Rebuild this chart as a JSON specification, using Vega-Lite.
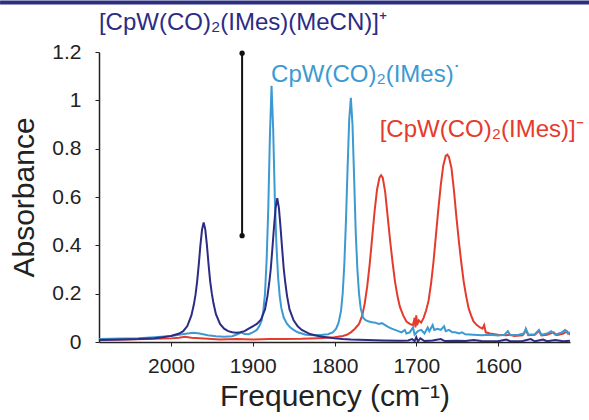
{
  "$schema": "https://vega.github.io/schema/vega-lite/v6.json",
  "width": 471,
  "height": 290,
  "autosize": "none",
  "padding": {"left": 99, "top": 52, "right": 19, "bottom": 78},
  "background": "white",
  "config": {"view": {"stroke": null}, "font": "Liberation Sans"},
  "datasets": {
    "spectra": [
      {"s": "anion", "f": 2088, "a": 0.008}, {"s": "anion", "f": 2060, "a": 0.01}, {"s": "anion", "f": 2030, "a": 0.012}, {"s": "anion", "f": 2000, "a": 0.015}, {"s": "anion", "f": 1990, "a": 0.018}, {"s": "anion", "f": 1983, "a": 0.022}, {"s": "anion", "f": 1975, "a": 0.018}, {"s": "anion", "f": 1960, "a": 0.014}, {"s": "anion", "f": 1940, "a": 0.01}, {"s": "anion", "f": 1920, "a": 0.012}, {"s": "anion", "f": 1900, "a": 0.01}, {"s": "anion", "f": 1880, "a": 0.012}, {"s": "anion", "f": 1860, "a": 0.012}, {"s": "anion", "f": 1840, "a": 0.013}, {"s": "anion", "f": 1820, "a": 0.016}, {"s": "anion", "f": 1800, "a": 0.02}, {"s": "anion", "f": 1790, "a": 0.025}, {"s": "anion", "f": 1785, "a": 0.03}, {"s": "anion", "f": 1780, "a": 0.04}, {"s": "anion", "f": 1775, "a": 0.055}, {"s": "anion", "f": 1770, "a": 0.075}, {"s": "anion", "f": 1766, "a": 0.11}, {"s": "anion", "f": 1763, "a": 0.16}, {"s": "anion", "f": 1760, "a": 0.23}, {"s": "anion", "f": 1757, "a": 0.32}, {"s": "anion", "f": 1754, "a": 0.43}, {"s": "anion", "f": 1751, "a": 0.54}, {"s": "anion", "f": 1748, "a": 0.63}, {"s": "anion", "f": 1745, "a": 0.68}, {"s": "anion", "f": 1743, "a": 0.69}, {"s": "anion", "f": 1741, "a": 0.68}, {"s": "anion", "f": 1738, "a": 0.62}, {"s": "anion", "f": 1735, "a": 0.52}, {"s": "anion", "f": 1732, "a": 0.42}, {"s": "anion", "f": 1729, "a": 0.33}, {"s": "anion", "f": 1726, "a": 0.25}, {"s": "anion", "f": 1723, "a": 0.19}, {"s": "anion", "f": 1720, "a": 0.145}, {"s": "anion", "f": 1716, "a": 0.11}, {"s": "anion", "f": 1712, "a": 0.085}, {"s": "anion", "f": 1708, "a": 0.075}, {"s": "anion", "f": 1704, "a": 0.07}, {"s": "anion", "f": 1702, "a": 0.1}, {"s": "anion", "f": 1701, "a": 0.06}, {"s": "anion", "f": 1700, "a": 0.11}, {"s": "anion", "f": 1699, "a": 0.07}, {"s": "anion", "f": 1697, "a": 0.09}, {"s": "anion", "f": 1694, "a": 0.08}, {"s": "anion", "f": 1691, "a": 0.1}, {"s": "anion", "f": 1688, "a": 0.13}, {"s": "anion", "f": 1685, "a": 0.17}, {"s": "anion", "f": 1682, "a": 0.24}, {"s": "anion", "f": 1679, "a": 0.33}, {"s": "anion", "f": 1676, "a": 0.44}, {"s": "anion", "f": 1673, "a": 0.55}, {"s": "anion", "f": 1670, "a": 0.65}, {"s": "anion", "f": 1667, "a": 0.73}, {"s": "anion", "f": 1664, "a": 0.77}, {"s": "anion", "f": 1662, "a": 0.775}, {"s": "anion", "f": 1660, "a": 0.765}, {"s": "anion", "f": 1657, "a": 0.72}, {"s": "anion", "f": 1654, "a": 0.63}, {"s": "anion", "f": 1651, "a": 0.52}, {"s": "anion", "f": 1648, "a": 0.42}, {"s": "anion", "f": 1645, "a": 0.33}, {"s": "anion", "f": 1642, "a": 0.25}, {"s": "anion", "f": 1639, "a": 0.19}, {"s": "anion", "f": 1636, "a": 0.14}, {"s": "anion", "f": 1633, "a": 0.11}, {"s": "anion", "f": 1630, "a": 0.085}, {"s": "anion", "f": 1626, "a": 0.07}, {"s": "anion", "f": 1622, "a": 0.06}, {"s": "anion", "f": 1619, "a": 0.055}, {"s": "anion", "f": 1617, "a": 0.07}, {"s": "anion", "f": 1615, "a": 0.04}, {"s": "anion", "f": 1610, "a": 0.035}, {"s": "anion", "f": 1600, "a": 0.03}, {"s": "anion", "f": 1590, "a": 0.028}, {"s": "anion", "f": 1585, "a": 0.03}, {"s": "anion", "f": 1580, "a": 0.025}, {"s": "anion", "f": 1570, "a": 0.028}, {"s": "anion", "f": 1566, "a": 0.05}, {"s": "anion", "f": 1563, "a": 0.028}, {"s": "anion", "f": 1555, "a": 0.03}, {"s": "anion", "f": 1550, "a": 0.045}, {"s": "anion", "f": 1547, "a": 0.027}, {"s": "anion", "f": 1540, "a": 0.03}, {"s": "anion", "f": 1532, "a": 0.04}, {"s": "anion", "f": 1528, "a": 0.028}, {"s": "anion", "f": 1520, "a": 0.035}, {"s": "anion", "f": 1516, "a": 0.045}, {"s": "anion", "f": 1512, "a": 0.03},

      {"s": "radical", "f": 2088, "a": 0.012}, {"s": "radical", "f": 2060, "a": 0.014}, {"s": "radical", "f": 2040, "a": 0.016}, {"s": "radical", "f": 2020, "a": 0.02}, {"s": "radical", "f": 2000, "a": 0.025}, {"s": "radical", "f": 1990, "a": 0.03}, {"s": "radical", "f": 1980, "a": 0.035}, {"s": "radical", "f": 1972, "a": 0.038}, {"s": "radical", "f": 1965, "a": 0.035}, {"s": "radical", "f": 1955, "a": 0.028}, {"s": "radical", "f": 1945, "a": 0.024}, {"s": "radical", "f": 1935, "a": 0.022}, {"s": "radical", "f": 1925, "a": 0.024}, {"s": "radical", "f": 1918, "a": 0.033}, {"s": "radical", "f": 1914, "a": 0.04}, {"s": "radical", "f": 1910, "a": 0.033}, {"s": "radical", "f": 1905, "a": 0.032}, {"s": "radical", "f": 1900, "a": 0.04}, {"s": "radical", "f": 1895, "a": 0.05}, {"s": "radical", "f": 1892, "a": 0.065}, {"s": "radical", "f": 1889, "a": 0.09}, {"s": "radical", "f": 1887, "a": 0.13}, {"s": "radical", "f": 1885, "a": 0.2}, {"s": "radical", "f": 1883, "a": 0.34}, {"s": "radical", "f": 1881, "a": 0.55}, {"s": "radical", "f": 1879, "a": 0.85}, {"s": "radical", "f": 1877, "a": 1.06}, {"s": "radical", "f": 1875, "a": 0.88}, {"s": "radical", "f": 1873, "a": 0.6}, {"s": "radical", "f": 1871, "a": 0.4}, {"s": "radical", "f": 1869, "a": 0.27}, {"s": "radical", "f": 1867, "a": 0.19}, {"s": "radical", "f": 1865, "a": 0.14}, {"s": "radical", "f": 1862, "a": 0.1}, {"s": "radical", "f": 1858, "a": 0.075}, {"s": "radical", "f": 1854, "a": 0.06}, {"s": "radical", "f": 1850, "a": 0.05}, {"s": "radical", "f": 1845, "a": 0.04}, {"s": "radical", "f": 1835, "a": 0.03}, {"s": "radical", "f": 1825, "a": 0.028}, {"s": "radical", "f": 1815, "a": 0.03}, {"s": "radical", "f": 1808, "a": 0.032}, {"s": "radical", "f": 1802, "a": 0.04}, {"s": "radical", "f": 1798, "a": 0.055}, {"s": "radical", "f": 1795, "a": 0.08}, {"s": "radical", "f": 1792, "a": 0.13}, {"s": "radical", "f": 1790, "a": 0.2}, {"s": "radical", "f": 1788, "a": 0.32}, {"s": "radical", "f": 1786, "a": 0.5}, {"s": "radical", "f": 1784, "a": 0.72}, {"s": "radical", "f": 1782, "a": 0.92}, {"s": "radical", "f": 1780, "a": 1.01}, {"s": "radical", "f": 1778, "a": 0.9}, {"s": "radical", "f": 1776, "a": 0.68}, {"s": "radical", "f": 1774, "a": 0.45}, {"s": "radical", "f": 1772, "a": 0.3}, {"s": "radical", "f": 1770, "a": 0.2}, {"s": "radical", "f": 1768, "a": 0.14}, {"s": "radical", "f": 1765, "a": 0.1}, {"s": "radical", "f": 1762, "a": 0.09}, {"s": "radical", "f": 1758, "a": 0.085}, {"s": "radical", "f": 1754, "a": 0.082}, {"s": "radical", "f": 1750, "a": 0.08}, {"s": "radical", "f": 1746, "a": 0.075}, {"s": "radical", "f": 1742, "a": 0.078}, {"s": "radical", "f": 1738, "a": 0.07}, {"s": "radical", "f": 1734, "a": 0.062}, {"s": "radical", "f": 1730, "a": 0.055}, {"s": "radical", "f": 1726, "a": 0.05}, {"s": "radical", "f": 1722, "a": 0.045}, {"s": "radical", "f": 1718, "a": 0.04}, {"s": "radical", "f": 1714, "a": 0.05}, {"s": "radical", "f": 1712, "a": 0.035}, {"s": "radical", "f": 1708, "a": 0.04}, {"s": "radical", "f": 1704, "a": 0.06}, {"s": "radical", "f": 1702, "a": 0.03}, {"s": "radical", "f": 1698, "a": 0.045}, {"s": "radical", "f": 1694, "a": 0.05}, {"s": "radical", "f": 1690, "a": 0.035}, {"s": "radical", "f": 1686, "a": 0.06}, {"s": "radical", "f": 1684, "a": 0.045}, {"s": "radical", "f": 1680, "a": 0.07}, {"s": "radical", "f": 1678, "a": 0.05}, {"s": "radical", "f": 1674, "a": 0.055}, {"s": "radical", "f": 1670, "a": 0.05}, {"s": "radical", "f": 1666, "a": 0.065}, {"s": "radical", "f": 1664, "a": 0.045}, {"s": "radical", "f": 1660, "a": 0.05}, {"s": "radical", "f": 1656, "a": 0.04}, {"s": "radical", "f": 1652, "a": 0.04}, {"s": "radical", "f": 1648, "a": 0.035}, {"s": "radical", "f": 1644, "a": 0.04}, {"s": "radical", "f": 1640, "a": 0.032}, {"s": "radical", "f": 1630, "a": 0.03}, {"s": "radical", "f": 1620, "a": 0.028}, {"s": "radical", "f": 1610, "a": 0.03}, {"s": "radical", "f": 1600, "a": 0.027}, {"s": "radical", "f": 1592, "a": 0.03}, {"s": "radical", "f": 1588, "a": 0.045}, {"s": "radical", "f": 1585, "a": 0.028}, {"s": "radical", "f": 1575, "a": 0.03}, {"s": "radical", "f": 1568, "a": 0.035}, {"s": "radical", "f": 1566, "a": 0.055}, {"s": "radical", "f": 1563, "a": 0.03}, {"s": "radical", "f": 1555, "a": 0.032}, {"s": "radical", "f": 1550, "a": 0.05}, {"s": "radical", "f": 1547, "a": 0.03}, {"s": "radical", "f": 1540, "a": 0.035}, {"s": "radical", "f": 1535, "a": 0.045}, {"s": "radical", "f": 1530, "a": 0.03}, {"s": "radical", "f": 1522, "a": 0.04}, {"s": "radical", "f": 1518, "a": 0.05}, {"s": "radical", "f": 1515, "a": 0.035}, {"s": "radical", "f": 1512, "a": 0.04},

      {"s": "cation", "f": 2088, "a": 0.008}, {"s": "cation", "f": 2060, "a": 0.01}, {"s": "cation", "f": 2040, "a": 0.012}, {"s": "cation", "f": 2020, "a": 0.016}, {"s": "cation", "f": 2010, "a": 0.02}, {"s": "cation", "f": 2000, "a": 0.025}, {"s": "cation", "f": 1990, "a": 0.035}, {"s": "cation", "f": 1985, "a": 0.045}, {"s": "cation", "f": 1980, "a": 0.066}, {"s": "cation", "f": 1975, "a": 0.11}, {"s": "cation", "f": 1972, "a": 0.155}, {"s": "cation", "f": 1970, "a": 0.195}, {"s": "cation", "f": 1968, "a": 0.25}, {"s": "cation", "f": 1966, "a": 0.32}, {"s": "cation", "f": 1964, "a": 0.4}, {"s": "cation", "f": 1962, "a": 0.465}, {"s": "cation", "f": 1960, "a": 0.495}, {"s": "cation", "f": 1958, "a": 0.465}, {"s": "cation", "f": 1956, "a": 0.4}, {"s": "cation", "f": 1954, "a": 0.32}, {"s": "cation", "f": 1952, "a": 0.25}, {"s": "cation", "f": 1950, "a": 0.2}, {"s": "cation", "f": 1948, "a": 0.16}, {"s": "cation", "f": 1945, "a": 0.115}, {"s": "cation", "f": 1940, "a": 0.075}, {"s": "cation", "f": 1935, "a": 0.055}, {"s": "cation", "f": 1930, "a": 0.045}, {"s": "cation", "f": 1925, "a": 0.04}, {"s": "cation", "f": 1920, "a": 0.038}, {"s": "cation", "f": 1915, "a": 0.04}, {"s": "cation", "f": 1910, "a": 0.045}, {"s": "cation", "f": 1905, "a": 0.055}, {"s": "cation", "f": 1900, "a": 0.065}, {"s": "cation", "f": 1895, "a": 0.075}, {"s": "cation", "f": 1890, "a": 0.092}, {"s": "cation", "f": 1885, "a": 0.135}, {"s": "cation", "f": 1882, "a": 0.19}, {"s": "cation", "f": 1880, "a": 0.24}, {"s": "cation", "f": 1878, "a": 0.3}, {"s": "cation", "f": 1876, "a": 0.385}, {"s": "cation", "f": 1874, "a": 0.475}, {"s": "cation", "f": 1872, "a": 0.555}, {"s": "cation", "f": 1870, "a": 0.595}, {"s": "cation", "f": 1868, "a": 0.555}, {"s": "cation", "f": 1866, "a": 0.475}, {"s": "cation", "f": 1864, "a": 0.385}, {"s": "cation", "f": 1862, "a": 0.3}, {"s": "cation", "f": 1860, "a": 0.24}, {"s": "cation", "f": 1858, "a": 0.19}, {"s": "cation", "f": 1855, "a": 0.135}, {"s": "cation", "f": 1850, "a": 0.09}, {"s": "cation", "f": 1845, "a": 0.065}, {"s": "cation", "f": 1840, "a": 0.05}, {"s": "cation", "f": 1830, "a": 0.033}, {"s": "cation", "f": 1820, "a": 0.025}, {"s": "cation", "f": 1810, "a": 0.02}, {"s": "cation", "f": 1800, "a": 0.015}, {"s": "cation", "f": 1790, "a": 0.012}, {"s": "cation", "f": 1780, "a": 0.01}, {"s": "cation", "f": 1760, "a": 0.008}, {"s": "cation", "f": 1740, "a": 0.006}, {"s": "cation", "f": 1720, "a": 0.005}, {"s": "cation", "f": 1710, "a": 0.006}, {"s": "cation", "f": 1705, "a": 0.012}, {"s": "cation", "f": 1702, "a": 0.004}, {"s": "cation", "f": 1700, "a": 0.02}, {"s": "cation", "f": 1698, "a": 0.003}, {"s": "cation", "f": 1695, "a": 0.015}, {"s": "cation", "f": 1690, "a": 0.004}, {"s": "cation", "f": 1680, "a": 0.006}, {"s": "cation", "f": 1670, "a": 0.012}, {"s": "cation", "f": 1665, "a": 0.004}, {"s": "cation", "f": 1650, "a": 0.005}, {"s": "cation", "f": 1640, "a": 0.004}, {"s": "cation", "f": 1630, "a": 0.008}, {"s": "cation", "f": 1620, "a": 0.004}, {"s": "cation", "f": 1600, "a": 0.003}, {"s": "cation", "f": 1590, "a": 0.01}, {"s": "cation", "f": 1585, "a": 0.003}, {"s": "cation", "f": 1570, "a": 0.004}, {"s": "cation", "f": 1560, "a": 0.012}, {"s": "cation", "f": 1555, "a": 0.003}, {"s": "cation", "f": 1545, "a": 0.01}, {"s": "cation", "f": 1540, "a": 0.003}, {"s": "cation", "f": 1530, "a": 0.008}, {"s": "cation", "f": 1520, "a": 0.003}, {"s": "cation", "f": 1512, "a": 0.005}
    ],
    "labels": [
      {"s": "cation", "f": 1912, "a": 1.32, "t": "[CpW(CO)₂(IMes)(MeCN)]⁺"},
      {"s": "radical", "f": 1761, "a": 1.105, "t": "CpW(CO)₂(IMes)˙"},
      {"s": "anion", "f": 1620, "a": 0.877, "t": "[CpW(CO)₂(IMes)]⁻"}
    ],
    "bar": [{"f": 1913, "a": 0.44, "a2": 1.195}],
    "barEnds": [{"f": 1913, "a": 0.44}, {"f": 1913, "a": 1.195}],
    "border": [{"f": 2209, "f2": 1487, "a": 1.405}]
  },
  "layer": [
    {
      "data": {"name": "spectra"},
      "mark": {"type": "line", "strokeWidth": 2, "clip": true},
      "encoding": {
        "x": {"field": "f", "type": "quantitative", "scale": {"domain": [1512, 2088], "reverse": true, "nice": false, "zero": false},
          "axis": {"values": [2000, 1900, 1800, 1700, 1600], "format": "d", "title": "Frequency (cm⁻¹)", "grid": false,
            "labelFontSize": 21, "titleFontSize": 30, "titleFontWeight": "normal", "labelColor": "#222", "titleColor": "#222",
            "domainColor": "#222", "domainWidth": 1.5, "tickColor": "#222", "tickSize": 4, "labelPadding": 9, "titlePadding": 5}},
        "y": {"field": "a", "type": "quantitative", "scale": {"domain": [0, 1.2], "nice": false},
          "axis": {"values": [0, 0.2, 0.4, 0.6, 0.8, 1, 1.2], "format": ".1~f", "title": "Absorbance", "grid": false,
            "labelFontSize": 21, "titleFontSize": 30, "titleFontWeight": "normal", "labelColor": "#222", "titleColor": "#222",
            "domainColor": "#222", "domainWidth": 1.5, "tickColor": "#222", "tickSize": 4, "labelPadding": 14, "titlePadding": 12}},
        "color": {"field": "s", "type": "nominal", "legend": null,
          "scale": {"domain": ["anion", "radical", "cation"], "range": ["#e53b2c", "#3c9ad2", "#2c2c85"]}},
        "order": {"field": "f"}
      }
    },
    {
      "data": {"name": "bar"},
      "mark": {"type": "rule", "color": "#111", "strokeWidth": 2},
      "encoding": {"x": {"field": "f", "type": "quantitative"}, "y": {"field": "a", "type": "quantitative"}, "y2": {"field": "a2"}}
    },
    {
      "data": {"name": "barEnds"},
      "mark": {"type": "point", "filled": true, "color": "#111", "size": 28, "opacity": 1},
      "encoding": {"x": {"field": "f", "type": "quantitative"}, "y": {"field": "a", "type": "quantitative"}}
    },
    {
      "data": {"name": "border"},
      "mark": {"type": "rule", "color": "#2a2f80", "strokeWidth": 4},
      "encoding": {"x": {"field": "f", "type": "quantitative"}, "x2": {"field": "f2"}, "y": {"field": "a", "type": "quantitative"}}
    },
    {
      "data": {"name": "labels"},
      "mark": {"type": "text", "fontSize": 24, "align": "center", "baseline": "middle"},
      "encoding": {
        "x": {"field": "f", "type": "quantitative"},
        "y": {"field": "a", "type": "quantitative"},
        "text": {"field": "t"},
        "color": {"field": "s", "type": "nominal", "legend": null}
      }
    }
  ]
}
